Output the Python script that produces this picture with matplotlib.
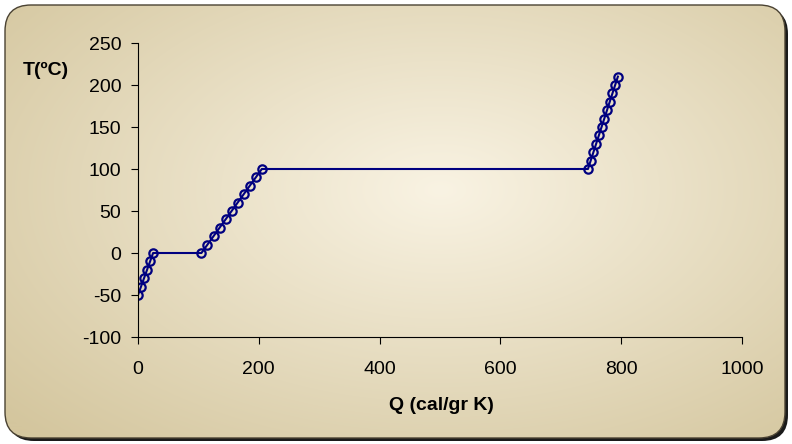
import numpy as np
import matplotlib.pyplot as plt
from matplotlib.patches import FancyBboxPatch

plt.rcParams['font.family'] = ['Liberation Sans', 'DejaVu Sans']
plt.rcParams['axes.unicode_minus'] = False

# heating curve of water, 1 g
q_ice = [0, 5, 10, 15, 20, 25]
t_ice = [-50, -40, -30, -20, -10, 0]
q_water = [105, 115, 125, 135, 145, 155, 165, 175, 185, 195, 205]
t_water = [0, 10, 20, 30, 40, 50, 60, 70, 80, 90, 100]
q_steam = [745, 749.5, 754, 758.5, 763, 767.5, 772, 776.5, 781, 785.5, 790, 794.5]
t_steam = [100, 110, 120, 130, 140, 150, 160, 170, 180, 190, 200, 210]

x_ticks = [0, 200, 400, 600, 800, 1000]
y_ticks = [-100, -50, 0, 50, 100, 150, 200, 250]

W, H = 792, 444
fig = plt.figure(figsize=(W / 100, H / 100), dpi=100)

# background panel with radial gradient, shadow and rounded corners
bg = fig.add_axes([0, 0, 1, 1])
bg.set_xlim(0, W)
bg.set_ylim(H, 0)
bg.axis('off')
shadow = FancyBboxPatch((8, 8), W - 12, H - 11, boxstyle='round,pad=0,rounding_size=26',
                        fc='#1a1a1a', ec='none', zorder=0)
bg.add_patch(shadow)
panel = FancyBboxPatch((5, 5), W - 12, H - 11, boxstyle='round,pad=0,rounding_size=26',
                       fc='none', ec='#4a4232', lw=1.0, zorder=3)
bg.add_patch(panel)
yy, xx = np.mgrid[0:H, 0:W]
d = np.sqrt(((xx - 440) / 580.0) ** 2 + ((yy - 190) / 340.0) ** 2)
d = np.clip(d, 0, 1)
c0 = np.array([249, 243, 227]) / 255.0
c1 = np.array([212, 198, 158]) / 255.0
img = c0[None, None, :] * (1 - d[..., None]) + c1[None, None, :] * d[..., None]
im = bg.imshow(img, extent=(0, W, H, 0), zorder=1, aspect='auto')
im.set_clip_path(panel)

ax = fig.add_axes([138 / W, 1 - 337 / H, (742 - 138) / W, (337 - 43) / H])
ax.patch.set_alpha(0)
marker_kw = dict(ls='none', marker='o', ms=6, mfc='none', mec='#000080', mew=1.6)
# connecting line through the whole curve
q_all = q_ice + q_water + q_steam
t_all = t_ice + t_water + t_steam
ax.plot(q_all, t_all, color='#000080', lw=1.5)
ax.plot(q_ice, t_ice, **marker_kw)
ax.plot(q_water, t_water, **marker_kw)
ax.plot(q_steam, t_steam, **marker_kw)

ax.set_xlim(0, 1000)
ax.set_ylim(-100, 250)
ax.set_xticks(x_ticks)
ax.set_yticks(y_ticks)
for s in ['top', 'right']:
    ax.spines[s].set_visible(False)
for s in ['left', 'bottom']:
    ax.spines[s].set_color('black')
    ax.spines[s].set_linewidth(0.8)
ax.tick_params(direction='out', length=5, width=0.8, labelsize=14)
ax.tick_params(axis='x', pad=12)
ax.tick_params(axis='y', pad=7)

fig.text(46 / W, 1 - 70 / H, 'T(ºC)', fontsize=14, fontweight='bold', ha='center', va='center')
fig.text(441 / W, 1 - 405 / H, 'Q (cal/gr K)', fontsize=14, fontweight='bold', ha='center', va='center')

fig.savefig('out.png', dpi=100)
